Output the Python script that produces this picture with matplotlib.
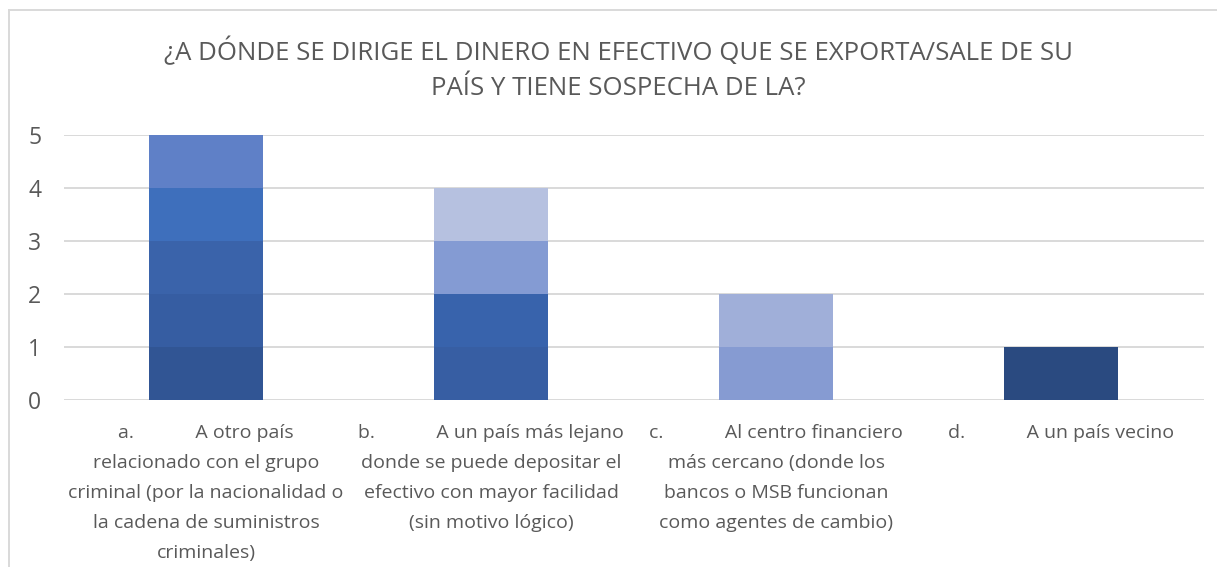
import numpy as np
import matplotlib.pyplot as plt
from matplotlib.lines import Line2D

plt.rcParams['font.family'] = ['Open Sans', 'DejaVu Sans']

title = "¿A DÓNDE SE DIRIGE EL DINERO EN EFECTIVO QUE SE EXPORTA/SALE DE SU\nPAÍS Y TIENE SOSPECHA DE LA?"
categories = [
    "a.            A otro país\nrelacionado con el grupo\ncriminal (por la nacionalidad o\nla cadena de suministros\ncriminales)",
    "b.            A un país más lejano\ndonde se puede depositar el\nefectivo con mayor facilidad\n(sin motivo lógico)",
    "c.            Al centro financiero\nmás cercano (donde los\nbancos o MSB funcionan\ncomo agentes de cambio)",
    "d.            A un país vecino",
]
counts = [5, 4, 2, 1]

# one colour per stacked unit, bottom to top
seg_colors = [
    ['#315594', '#365DA2', '#3A63AA', '#3E6FBC', '#5F80C7'],
    ['#375EA3', '#3863AC', '#849BD3', '#B6C1E0'],
    ['#869BD2', '#A0AFD9'],
    ['#2A4A80'],
]

W, H = 1217, 567
fig = plt.figure(figsize=(W / 100, H / 100), dpi=100)
ax = fig.add_axes([63.5 / W, (H - 400) / H, (1203.5 - 63.5) / W, (400 - 135) / H])

x = np.arange(len(categories))
for i, n in enumerate(counts):
    for k in range(n):
        ax.bar(x[i], 1, bottom=k, width=0.4, color=seg_colors[i][k], linewidth=0, zorder=3)

ax.set_xlim(-0.5, len(categories) - 0.5)
ax.set_ylim(0, 5)
ax.set_yticks(range(6))
ax.yaxis.grid(True, color='#D9D9D9', linewidth=1.4, zorder=0)
for s in ax.spines.values():
    s.set_visible(False)
ax.tick_params(axis='y', length=0, pad=16, labelsize=16.5, labelcolor='#595959')
ax.tick_params(axis='x', length=0, pad=17, labelsize=14, labelcolor='#595959')
ax.set_xticks(x)
ax.set_xticklabels(categories, linespacing=1.86, ha='center', va='top')

fig.text(618 / W, 1 - 69 / H, title, ha='center', va='center', fontsize=18.5,
         color='#595959', linespacing=1.55)

# chart frame
fig.add_artist(Line2D([8.5 / W, 8.5 / W], [0, 1 - 10 / H], transform=fig.transFigure,
                      color='#D9D9D9', linewidth=1.4))
fig.add_artist(Line2D([8.5 / W, 1], [1 - 10 / H, 1 - 10 / H], transform=fig.transFigure,
                      color='#D9D9D9', linewidth=1.4))

fig.savefig('out.png', dpi=100)
